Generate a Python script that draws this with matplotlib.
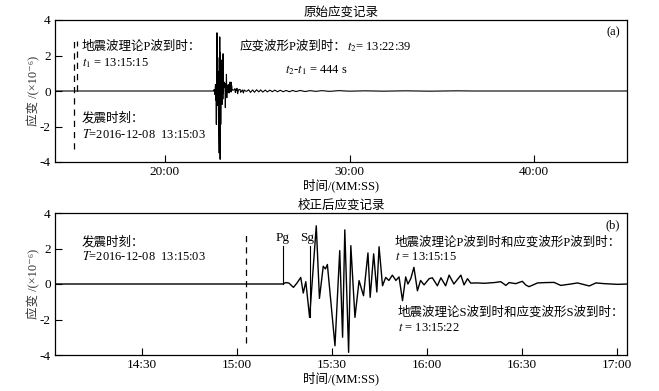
import numpy as np
import matplotlib
matplotlib.use("Agg")
import matplotlib.pyplot as plt
from matplotlib.ticker import FuncFormatter

plt.rcParams['font.family'] = ['Liberation Serif', 'Noto Sans CJK SC', 'DejaVu Serif']
plt.rcParams['mathtext.fontset'] = 'stix'
plt.rcParams['axes.unicode_minus'] = False

# ---------------- data (time in seconds, MM:SS on axis) ----------------
# corrected strain record (panel b)
corr_t = [840, 914.5, 915.5, 916.5, 917.9, 919.0, 920.2, 921.0, 921.8, 923.0,
          925.1, 926.1, 927.3, 928.0, 928.6, 931.0, 932.5, 933.4, 934.1, 935.3,
          936.0, 937.3, 938.6, 940.0, 941.4, 942.1, 943.2, 944.2, 944.9, 946.0,
          947.0, 948.0, 949.1, 950.2, 951.2, 952.3, 953.3, 954.0, 954.9, 955.9,
          957.0, 958.0, 959.1, 960.7, 961.7, 963.3, 964.4, 965.9, 967.0, 968.5,
          970.7, 971.7, 972.8, 973.8, 975.9, 978.0, 981.2, 983.3, 984.9, 985.9,
          988.0, 990.1, 991.2, 992.2, 994.9, 997.5, 1000.1, 1002.2, 1005.4, 1007.5,
          1011.2, 1013.3, 1015.9, 1020.1, 1023.3]
corr_v = [0, 0, 0.08, 0.05, -0.19, 0.05, 0.37, -0.51, 0.13, -1.88,
          3.28, -0.81, 1.0, 0.85, 1.1, -3.48, 1.88, -3.0, 3.05, -3.85,
          2.16, -1.88, 0.19, -0.66, 1.75, -0.75, 1.7, -0.45, 2.1, -0.1,
          0.37, 0.2, 0.5, 0.2, 0.4, -0.94, 0.4, 0.0, 0.3, 0.94,
          -0.38, 0.2, -0.05, 0.3, 0.35, -0.1, 0.35, -0.1, 0.5, 0.0,
          0.5, -0.05, 0.3, 0.05, 0.06, 0.04, 0.08, 0.13, -0.08, 0.08,
          0.02, 0.15, -0.06, -0.15, 0.06, 0.08, 0.09, -0.08, 0.0, 0.06,
          -0.11, 0.06, 0.02, -0.02, 0.0]

# original record = corrected record delayed by t2 - t1, plus its later coda
shift = 444
raw_start, raw_end = 840, 2710
raw_tail_t = [1472, 1478, 1485, 1491, 1498, 1505, 1511, 1518, 1526, 1533,
              1541, 1549, 1557, 1566, 1575, 1584, 1594, 1604, 1615, 1626,
              1640, 1655, 1672, 1690, 1710, 1735, 1765, 1800, 1850, 1910,
              1980, 2060, 2150, 2200]
raw_tail_v = [0.07, -0.08, 0.06, -0.07, 0.07, -0.05, 0.06, -0.06, 0.05, -0.05,
              0.05, -0.04, 0.05, -0.04, 0.04, -0.04, 0.03, -0.04, 0.03, -0.03,
              0.03, -0.03, 0.02, -0.02, 0.02, -0.02, 0.02, -0.01, 0.01, -0.01,
              0.01, -0.01, 0.01, 0]

origin_time = 903      # 13:15:03
p_arrival = 914.5      # Pg
s_arrival = 923.0      # Sg

xticks_a = [1200, 1800, 2400]
xticks_b = [870, 900, 930, 960, 990, 1020]
yticks = [-4, -2, 0, 2, 4]

# ---------------- figure ----------------
W, H = 659, 391
fig = plt.figure(figsize=(W / 100, H / 100), dpi=100)

def box(l, t, r, b):
    return [l / W, 1 - b / H, (r - l) / W, (b - t) / H]

def fpos(x, y):
    return x / W, 1 - y / H

fmt = FuncFormatter(lambda s, _: f"{int(s // 60)}:{int(round(s % 60)):02d}")

axa = fig.add_axes(box(55, 20, 627, 162))
axb = fig.add_axes(box(55, 213, 627, 355))

raw_t = [raw_start] + [t + shift for t in corr_t[1:]] + raw_tail_t + [raw_end]
raw_v = [0] + corr_v[1:] + raw_tail_v + [0]

axa.plot(raw_t, raw_v, color='black', lw=0.8)
axb.plot(corr_t, corr_v, color='black', lw=1.0)

axa.set_xlim(842.5, 2702)
axb.set_xlim(842.7, 1023.1)
axa.set_xticks(xticks_a)
axb.set_xticks(xticks_b)

for ax in (axa, axb):
    ax.set_ylim(-4, 4)
    ax.set_yticks(yticks)
    ax.xaxis.set_major_formatter(fmt)
    ax.tick_params(direction='in', length=5, width=0.8, labelsize=9.5,
                   top=False, right=False, pad=3)
    for sp in ax.spines.values():
        sp.set_linewidth(0.9)
    ax.set_ylabel("应变 /(×10⁻⁶)", fontsize=9, color='#333333')
    ax.yaxis.set_label_coords(-0.026, 0.5)
    ax.set_xlabel("时间/(MM:SS)", fontsize=9, labelpad=0)

axa.set_title("原始应变记录", fontsize=9, pad=3)
axb.set_title("校正后应变记录", fontsize=9, pad=3)

# dashed markers
axa.plot([origin_time, origin_time], [-3.27, 2.93], color='black', lw=0.9,
         dashes=(5, 4))
axa.plot([915, 915], [0, 2.8], color='black', lw=0.9, dashes=(5, 4))
axb.plot([origin_time, origin_time], [-3.3, 2.9], color='black', lw=0.9,
         dashes=(5, 4))

# Pg / Sg
axb.plot([p_arrival, p_arrival], [0, 2.16], color='black', lw=0.8)
axb.plot([s_arrival, s_arrival], [-1.88, 2.16], color='black', lw=0.8)
axb.text(p_arrival, 2.25, "Pg", ha='center', va='bottom', fontsize=9.5)
axb.text(s_arrival - 0.7, 2.25, "Sg", ha='center', va='bottom', fontsize=9.5)

fs = 9
# panel a text
fig.text(*fpos(82, 47), "地震波理论P波到时：", fontsize=fs, va='center')
fig.text(*fpos(82, 63), "$t_1$ = 13:15:15", fontsize=fs, va='center')
fig.text(*fpos(82, 118), "发震时刻：", fontsize=fs, va='center')
fig.text(*fpos(82, 134), "$T$=2016-12-08  13:15:03", fontsize=fs, va='center')
fig.text(*fpos(240, 47), "应变波形P波到时：", fontsize=fs, va='center')
fig.text(*fpos(347, 47), "$t_2$= 13:22:39", fontsize=fs, va='center')
fig.text(*fpos(285, 70), "$t_2$-$t_1$ = 444 s", fontsize=fs, va='center')
fig.text(*fpos(613, 32), "(a)", fontsize=fs, va='center', ha='center')

# panel b text
fig.text(*fpos(82, 242), "发震时刻：", fontsize=fs, va='center')
fig.text(*fpos(82, 257), "$T$=2016-12-08  13:15:03", fontsize=fs, va='center')
fig.text(*fpos(613, 225), "(b)", fontsize=fs, va='center', ha='center')
fig.text(*fpos(395, 243), "地震波理论P波到时和应变波形P波到时：", fontsize=fs, va='center')
fig.text(*fpos(395, 257), "$t$ = 13:15:15", fontsize=fs, va='center')
fig.text(*fpos(398, 313), "地震波理论S波到时和应变波形S波到时：", fontsize=fs, va='center')
fig.text(*fpos(398, 328), "$t$ = 13:15:22", fontsize=fs, va='center')

fig.savefig("out.png", dpi=100)
